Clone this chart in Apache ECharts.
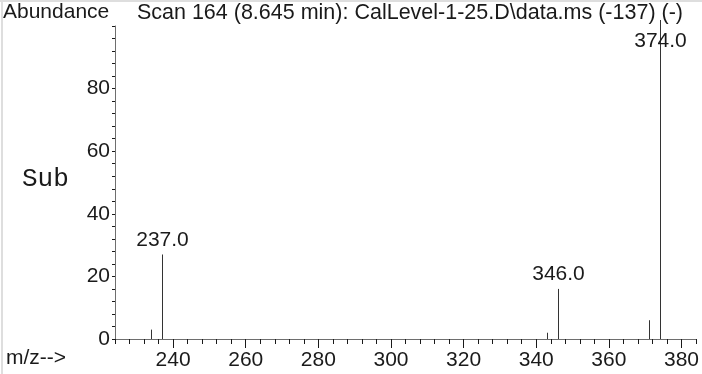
<!DOCTYPE html>
<html>
<head>
<meta charset="utf-8">
<script src="https://cdn.jsdelivr.net/npm/echarts@6/dist/echarts.min.js"></script>
<style>
  html, body { margin: 0; padding: 0; background: #fff; }
  #chart { width: 702px; height: 374px; }
</style>
</head>
<body>
<div id="chart"></div>
<script>
  // peaks of the scan
  var mzValues = [234, 237, 343, 346, 371, 374];
  var abundance = [3, 27, 2, 16, 6, 100];
  var peakLabels = ['', '237.0', '', '346.0', '', '374.0'];

  var xMajorTicks = [240, 260, 280, 300, 320, 340, 360, 380];
  var yTickLabels = [0, 20, 40, 60, 80];

  var titleLeft = 'Abundance';
  var titleRight = 'Scan 164 (8.645 min): CalLevel-1-25.D\\data.ms (-137) (-)';

  var textColor = '#1a1a1a';
  var axisColor = '#6e6e6e';
  var font = 'Liberation Sans, Arial, sans-serif';

  var peakData = mzValues.map(function (m, i) { return [m, abundance[i]]; });

  var myChart = echarts.init(document.getElementById('chart'), null, { renderer: 'canvas' });

  var option = {
    animation: false,
    backgroundColor: '#fff',
    grid: { left: 115, right: 0, top: 26, bottom: 35 },
    xAxis: [
      {
        type: 'value',
        min: 224,
        max: 384,
        interval: 4,
        axisLine: { show: true, lineStyle: { color: axisColor, width: 1 } },
        axisTick: { show: true, length: 5, lineStyle: { color: textColor } },
        axisLabel: { show: false },
        splitLine: { show: false }
      },
      {
        type: 'value',
        position: 'bottom',
        min: 224,
        max: 384,
        axisLine: { show: false },
        axisTick: { show: true, length: 9, customValues: xMajorTicks, lineStyle: { color: textColor } },
        axisLabel: {
          show: true,
          customValues: xMajorTicks,
          margin: 11,
          color: textColor,
          fontSize: 21,
          fontFamily: font
        },
        splitLine: { show: false }
      }
    ],
    yAxis: {
      type: 'value',
      min: 0,
      max: 100,
      interval: 4,
      axisLine: { show: true, lineStyle: { color: axisColor, width: 1 } },
      axisTick: { show: true, length: 3, lineStyle: { color: textColor } },
      axisLabel: {
        margin: 5,
        color: textColor,
        fontSize: 21,
        fontFamily: font,
        formatter: function (v) {
          return yTickLabels.indexOf(v) >= 0 ? String(v) : '';
        }
      },
      splitLine: { show: false }
    },
    graphic: [
      // faint frame at the top and left edge
      { type: 'line', shape: { x1: 0, y1: 1, x2: 702, y2: 1 }, style: { stroke: '#dedede', lineWidth: 2 } },
      { type: 'line', shape: { x1: 2, y1: 0, x2: 2, y2: 374 }, style: { stroke: '#dedede', lineWidth: 2 } },
      { type: 'text', left: 3, top: 2, style: { text: titleLeft, fill: textColor, font: '21px ' + font } },
      { type: 'text', right: 19, top: 2, style: { text: titleRight, fill: textColor, font: '21.5px ' + font } },
      { type: 'text', left: 6, top: 348, style: { text: 'm/z-->', fill: textColor, font: '21px ' + font } },
      { type: 'text', left: 22, top: 166, style: { text: 'Sub', fill: textColor, font: '26px Liberation Mono, Courier New, monospace' } }
    ],
    series: [
      {
        type: 'custom',
        xAxisIndex: 0,
        yAxisIndex: 0,
        clip: false,
        data: peakData,
        renderItem: function (params, api) {
          var base = api.coord([api.value(0), 0]);
          var top = api.coord([api.value(0), api.value(1)]);
          var x = Math.round(base[0]) + 0.5;
          var children = [{
            type: 'line',
            shape: { x1: x, y1: base[1], x2: x, y2: top[1] - 6 * (api.value(1) >= 100 ? 1 : 0) },
            style: { stroke: '#333', lineWidth: 1 }
          }];
          var label = peakLabels[params.dataIndex];
          if (label) {
            children.push({
              type: 'text',
              style: {
                text: label,
                x: x,
                y: Math.max(top[1] - 4, 52),
                align: 'center',
                verticalAlign: 'bottom',
                fill: textColor,
                font: '21px ' + font
              }
            });
          }
          return { type: 'group', children: children };
        }
      }
    ]
  };

  myChart.setOption(option);
</script>
</body>
</html>
